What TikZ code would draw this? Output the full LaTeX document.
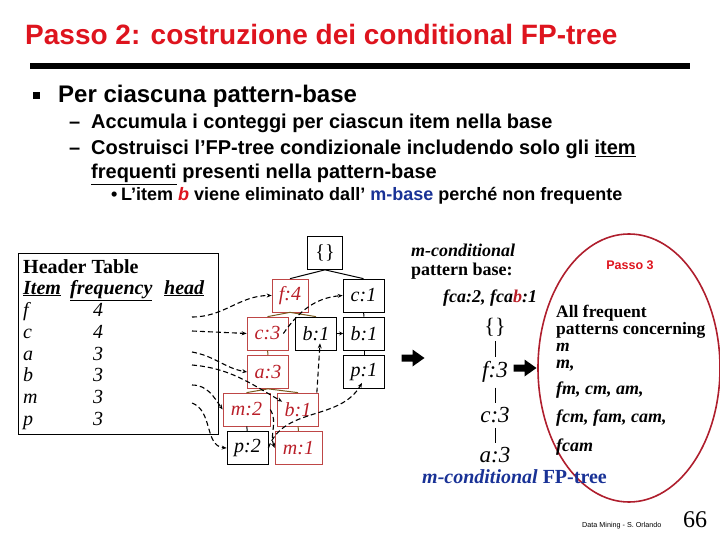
\documentclass[tikz,border=0pt]{standalone}
\usepackage{fontspec}
\setmainfont{Liberation Serif}
\setsansfont{Liberation Sans}
\usetikzlibrary{arrows.meta}
\definecolor{titlered}{RGB}{222,20,30}
\definecolor{nodered}{RGB}{185,30,40}
\definecolor{boxred}{RGB}{190,70,70}
\definecolor{edgebrown}{RGB}{120,90,30}
\definecolor{darkblue}{RGB}{25,50,150}
\definecolor{ellred}{RGB}{175,30,45}
\newcommand{\fsz}[1]{\fontsize{#1}{#1}\selectfont}
\newcommand{\bigarrow}[2]{\fill (#1,#2) ++(-11.5,3.5) -- ++(11,0) -- ++(0,5) -- ++(12,-8.5) -- ++(-12,-8.5) -- ++(0,5) -- ++(-11,0) -- cycle;}

\begin{document}
\begin{tikzpicture}[x=1pt,y=1pt,
    txt/.style={anchor=base west,inner sep=0pt},
    box/.style={draw,line width=0.7pt,minimum width=41pt,minimum height=33pt,inner sep=2pt,font=\fsz{20}\itshape},
    redbox/.style={box,draw=boxred,text=nodered},
    tline/.style={line width=1pt},
    bline/.style={line width=1pt,draw=edgebrown},
    link/.style={line width=1.1pt,dash pattern=on 5pt off 3pt,-{Stealth[length=5pt,width=4pt]}},
    hrow/.style={txt,font=\fsz{20}\itshape},
    rtree/.style={inner sep=1pt,font=\fsz{23}\itshape},
    rline/.style={line width=0.8pt,shorten <=4pt,shorten >=3pt},
    plist/.style={txt,font=\bfseries\itshape\fsz{18}}]
    \useasboundingbox (0,0) rectangle (720,-540);

    \node[txt,text=titlered,font=\sffamily\bfseries\fsz{28}] (title) at (25,-45) {Passo 2: costruzione dei conditional FP-tree};
    \fill (30,-63) rectangle (690,-69);

    \fill (33,-92) rectangle (40,-99);
    \node[txt,font=\sffamily\bfseries\fsz{24}] (lvA) at (58,-103) {Per ciascuna pattern-base};
    \node[txt,font=\sffamily\bfseries\fsz{20}] (dashA) at (69,-129) {–};
    \node[txt,font=\sffamily\bfseries\fsz{20}] (lvB) at (91,-129) {Accumula i conteggi per ciascun item nella base};
    \node[txt,font=\sffamily\bfseries\fsz{20}] (dashB) at (69,-155) {–};
    \node[txt,font=\sffamily\bfseries\fsz{20}] (lvC) at (91,-155) {Costruisci l’FP-tree condizionale includendo solo gli \underline{item}};
    \node[txt,font=\sffamily\bfseries\fsz{20}] (lvD) at (91,-179) {\underline{frequenti} presenti nella pattern-base};
    \node[txt,font=\sffamily\bfseries\fsz{18}] (dotE) at (111,-201) {•};
    \node[txt,font=\sffamily\bfseries\fsz{18}] (lvE) at (121,-201) {L’item \textcolor{titlered}{\itshape b} viene eliminato dall’ \textcolor{darkblue}{m-base} perché non frequente};

    % header table
    \draw[line width=1pt] (18,-253) rectangle (218,-434);
    \node[txt,font=\bfseries\fsz{20}] (htitle) at (23,-273) {Header Table};
    \node[txt,font=\bfseries\itshape\fsz{20}] (hitem) at (23,-294) {\underline{Item}};
    \node[txt,font=\bfseries\itshape\fsz{20}] (hfreq) at (70,-294) {\underline{frequency}};
    \node[txt,font=\bfseries\itshape\fsz{20}] (hhead) at (164,-294) {\underline{head}};
    \foreach \lt/\fr/\yy [count=\i] in {f/4/316,c/4/338,a/3/360,b/3/381,m/3/403,p/3/425} {
        \node[hrow] (hi\i) at (23,-\yy) {\lt};
        \node[hrow] (hn\i) at (93,-\yy) {\fr};
    }
    \coordinate (hf) at (192,-317);
    \coordinate (hc) at (192,-331);
    \coordinate (ha) at (192,-352);
    \coordinate (hb) at (192,-365);
    \coordinate (hm) at (192,-385);
    \coordinate (hp) at (192,-403);

    % FP-tree
    \node[box,minimum width=35pt,font=\fsz{20}] (root) at (325,-253) {\{\}};
    \node[redbox,minimum width=36pt] (f4) at (290,-295.5) {f:4};
    \node[box] (c1) at (363.5,-295.5) {c:1};
    \node[redbox] (c3) at (267.5,-333.5) {c:3};
    \node[box] (b1m) at (316,-333.5) {b:1};
    \node[box] (b1r) at (364,-333.5) {b:1};
    \node[redbox] (a3) at (268,-372) {a:3};
    \node[box] (p1) at (364,-372) {p:1};
    \node[redbox,minimum width=47pt] (m2) at (246.5,-409.5) {m:2};
    \node[redbox] (b1l) at (298,-409.5) {b:1};
    \node[box] (p2) at (247.5,-448) {p:2};
    \node[redbox,minimum width=47pt] (m1) at (298.5,-448) {m:1};

    \draw[tline] (root.south) -- (f4.north);
    \draw[tline] (root.south) -- (c1.north);
    \draw[bline] (f4.south) -- (c3.north);
    \draw[bline] (f4.south) -- (b1m.north);
    \draw[bline] (c3) -- (a3);
    \draw[bline] (a3.south) -- (m2.north);
    \draw[bline] (a3.south) -- (b1l.north);
    \draw[bline] (b1l) -- (m1);
    \draw[tline] (c1) -- (b1r);
    \draw[tline] (b1r) -- (p1);
    \draw[tline] (m2) -- (p2);

    \draw[link] (hf) to[out=0,in=180] (f4.west);
    \draw[link] (hc) -- (c3.west);
    \draw[link] (ha) to[out=-10,in=170] (a3.west);
    \draw[link] (hb) to[out=-5,in=150] ([shift={(5pt,-9pt)}]b1l.north west);
    \draw[link] (hm) to[out=0,in=125] (m2.west);
    \draw[link] (hp) to[out=-20,in=175] (p2.west);
    \draw[link] (m2.east) to[out=-60,in=110] (m1.west);
    \draw[link] ([xshift=-2pt]b1l.north east) -- ([shift={(4pt,7pt)}]b1m.south);
    \draw[link] (p2.east) to[out=70,in=-120] ([shift={(-2pt,6pt)}]p1.south);
    \draw[link] ([xshift=-5pt]c3.east) to[out=55,in=185] (c1.west);
    \draw[line width=0.7pt,-{Stealth[length=4pt,width=4pt]}] (b1m) -- (b1r);

    % m-conditional
    \node[txt,font=\bfseries\itshape\fsz{18}] (mcond) at (411,-256) {m-conditional};
    \node[txt,font=\bfseries\fsz{18}] (pbase) at (411,-275) {pattern base:};
    \node[txt,font=\bfseries\itshape\fsz{18}] (pbvals) at (443,-302) {fca:2, fca\textcolor{nodered}{b}:1};

    \node[rtree,font=\fsz{22}] (r0) at (495,-327) {\{\}};
    \node[rtree] (rf) at (495,-372) {f:3};
    \node[rtree] (rc) at (495,-415) {c:3};
    \node[rtree] (ra) at (495,-455) {a:3};
    \draw[rline] (r0) -- (rf);
    \draw[rline] (rf) -- (rc);
    \draw[rline] (rc) -- (ra);

    \bigarrow{413}{-358}
    \bigarrow{525}{-368}

    \draw[ellred,line width=1.6pt] (629,-368) ellipse [x radius=91pt,y radius=134pt];
    \node[text=titlered,font=\sffamily\bfseries\fsz{12.5}] (passo) at (630,-265) {Passo 3};
    \node[anchor=north west,inner sep=0pt,align=left,font=\bfseries\fontsize{17.5}{17}\selectfont] (allf) at (556,-305) {All frequent\\patterns concerning\\\textit{m}};
    \node[plist] (pm) at (556,-368) {m,};
    \node[plist] (pfm) at (556,-394) {fm, cm, am,};
    \node[plist] (pfcm) at (556,-422) {fcm, fam, cam,};
    \node[plist] (pfcam) at (556,-451) {fcam};

    \node[txt,text=darkblue,font=\fsz{20}] (mtree) at (422,-483) {\textbf{\textit{m-conditional}} \textbf{FP-tree}};

    \node[txt,font=\sffamily\fsz{7.2}] (foot) at (582,-527) {Data Mining - S. Orlando};
    \node[anchor=base,inner sep=0pt,font=\fsz{24}] (pnum) at (695,-527) {66};
\end{tikzpicture}
\end{document}
